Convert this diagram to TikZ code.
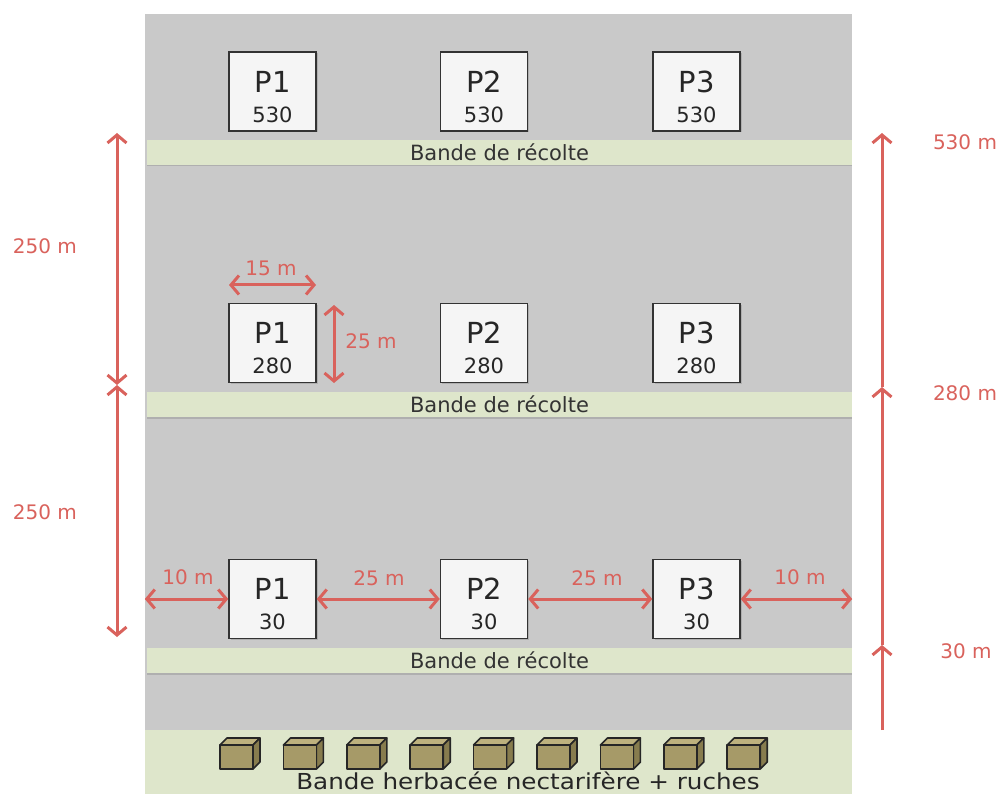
\documentclass[tikz,border=0pt]{standalone}
\usepackage{fontspec}
\setmainfont{DejaVu Sans}
\newfontfamily\widefont[FakeStretch=1.12]{DejaVu Sans}
\usetikzlibrary{arrows.meta,shadows}

\definecolor{fieldgray}{HTML}{C9C9C9}
\definecolor{bandgreen}{HTML}{DEE6CB}
\definecolor{dimred}{HTML}{D9625C}
\definecolor{hivefront}{HTML}{A69A68}
\definecolor{hivetop}{HTML}{BDB17E}
\definecolor{hiveside}{HTML}{877C4E}

\begin{document}
\begin{tikzpicture}[x=1pt,y=-1pt]
  \tikzset{plot/.style={draw=black!80,line width=1.5pt,fill=black!4,minimum width=87pt,minimum height=79pt,align=center,inner sep=0pt,text=black!85,font=\fontsize{29}{29}\selectfont,drop shadow={shadow xshift=1.5pt,shadow yshift=-1.5pt,opacity=0.35}},
    band/.style={fill=bandgreen,minimum width=705pt,minimum height=25pt,inner sep=0pt,font=\fontsize{21}{21}\selectfont,text=black!80,drop shadow={shadow xshift=0pt,shadow yshift=-1.5pt,opacity=0.35}},
    dim/.style={draw=dimred,line width=3pt,{Straight Barb[length=8pt,width=19pt]}-{Straight Barb[length=8pt,width=19pt]}},
    rise/.style={draw=dimred,line width=3pt,-{Straight Barb[length=8pt,width=19pt]}},
    dimlabel/.style={text=dimred,font=\fontsize{20}{20}\selectfont,inner sep=0pt},
    hive/.style={draw=black!85,line width=1.6pt,line join=round}}
  \newcommand{\plotnum}{\fontsize{21}{21}\selectfont}
  \newcommand{\plottop}{\rule{0pt}{32pt}}

  \useasboundingbox (0,0) rectangle (1001,794);
  \node [fill=fieldgray,minimum width=707pt,minimum height=716pt,inner sep=0pt] (field) at (498.5,372) {};
  \node [fill=bandgreen,minimum width=707pt,minimum height=64pt,inner sep=0pt] (meadow) at (498.5,762) {};

  \node [band] (band1) at (499.5,152.5) {Bande de récolte};
  \node [band] (band2) at (499.5,404.5) {Bande de récolte};
  \node [band] (band3) at (499.5,660.5) {Bande de récolte};

  \node [plot] (p1a) at (272.5,91.5) {\plottop P1\\[1pt]\plotnum 530};
  \node [plot] (p2a) at (484,91.5) {\plottop P2\\[1pt]\plotnum 530};
  \node [plot] (p3a) at (696.5,91.5) {\plottop P3\\[1pt]\plotnum 530};
  \node [plot] (p1b) at (272.5,343) {\plottop P1\\[1pt]\plotnum 280};
  \node [plot] (p2b) at (484,343) {\plottop P2\\[1pt]\plotnum 280};
  \node [plot] (p3b) at (696.5,343) {\plottop P3\\[1pt]\plotnum 280};
  \node [plot] (p1c) at (272.5,599) {\plottop P1\\[1pt]\plotnum 30};
  \node [plot] (p2c) at (484,599) {\plottop P2\\[1pt]\plotnum 30};
  \node [plot] (p3c) at (696.5,599) {\plottop P3\\[1pt]\plotnum 30};

  \coordinate (l1) at (117,133);
  \coordinate (l2) at (117,385);
  \coordinate (l3) at (117,637);
  \draw [dim] (l1) -- (l2);
  \draw [dim] (l2) -- (l3);
  \node [dimlabel] (d250a) at (45,246) {250 m};
  \node [dimlabel] (d250b) at (45,512) {250 m};

  \coordinate (r0) at (882,730);
  \coordinate (r1) at (882,645);
  \coordinate (r2) at (882,387);
  \coordinate (r3) at (882,133);
  \draw [rise] (r0) -- (r1);
  \draw [rise] (r1) -- (r2);
  \draw [rise] (r2) -- (r3);
  \node [dimlabel] (h530) at (965,142) {530 m};
  \node [dimlabel] (h280) at (965,393) {280 m};
  \node [dimlabel] (h30) at (966,651) {30 m};

  \coordinate (w15) at (229,285);
  \coordinate (e15) at (316,285);
  \draw [dim] (w15) -- (e15);
  \node [dimlabel] (d15) at (271,268) {15 m};
  \coordinate (n25) at (334,305);
  \coordinate (s25) at (334,383);
  \draw [dim] (n25) -- (s25);
  \node [dimlabel] (d25v) at (371,341) {25 m};

  \draw [dim] (field.west |- p1c) -- (p1c.west);
  \draw [dim] (p1c.east) -- (p2c.west);
  \draw [dim] (p2c.east) -- (p3c.west);
  \draw [dim] (p3c.east) -- (field.east |- p3c);
  \node [dimlabel] (d10a) at (188,577) {10 m};
  \node [dimlabel] (d25a) at (379,578) {25 m};
  \node [dimlabel] (d25b) at (597,578) {25 m};
  \node [dimlabel] (d10b) at (800,577) {10 m};

  \foreach \i in {0,...,8} {
    \begin{scope}[shift={(220+63.4*\i,745)}]
      \draw [hive,fill=hivetop] (0,0) -- (7,-7) -- (40,-7) -- (33,0) -- cycle;
      \draw [hive,fill=hiveside] (33,0) -- (40,-7) -- (40,17) -- (33,24) -- cycle;
      \draw [hive,fill=hivefront] (0,0) rectangle (33,24);
    \end{scope}
  }
  \node [anchor=base,font=\widefont\fontsize{22}{22}\selectfont,text=black!85,inner sep=0pt] (meadowtext) at (528,789) {Bande herbacée nectarifère + ruches};
\end{tikzpicture}
\end{document}
